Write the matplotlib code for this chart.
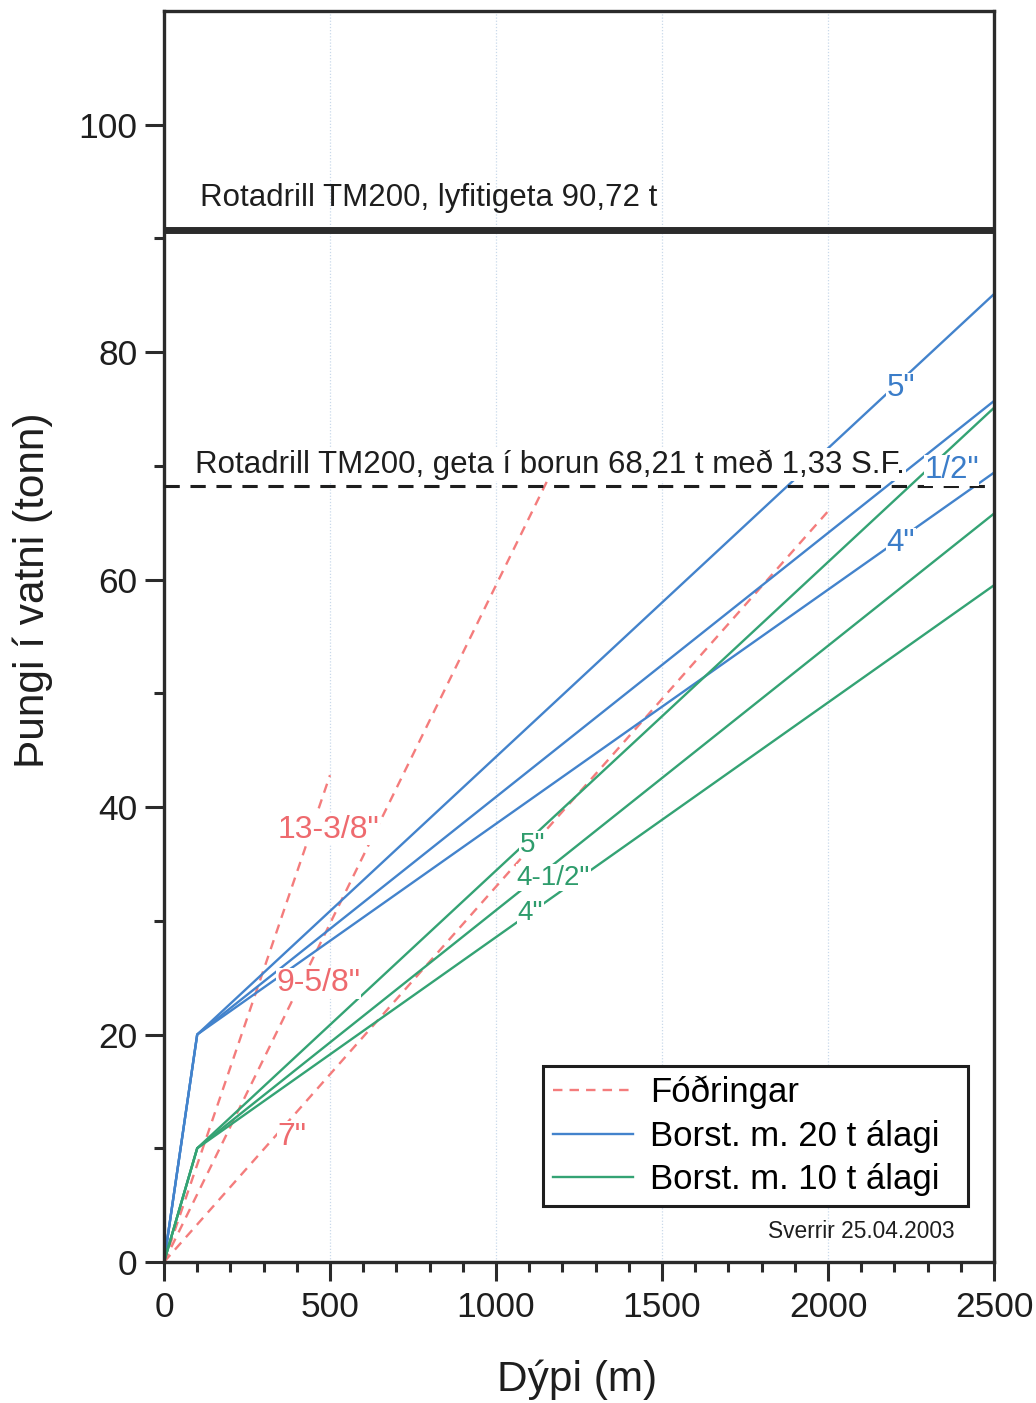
"""Þungi borstrengs og fóðringa í vatni sem fall af dýpi (Rotadrill TM200)."""

import matplotlib

matplotlib.use("Agg")
import matplotlib.pyplot as plt
from matplotlib.lines import Line2D
from matplotlib.ticker import FixedLocator

plt.rcParams["font.family"] = ["Liberation Sans", "DejaVu Sans"]

# --- data -------------------------------------------------------------------
# casings (Fóðringar): depth [m] / weight in water [t]
casing_names = ['13-3/8"', '9-5/8"', '7"']
casing_depth = [[0, 500], [0, 1205], [0, 2000]]
casing_weight = [[0, 42.8], [0, 71.7], [0, 66.0]]

# drill string with 20 t and 10 t bottom load
pipe_names = ['5"', '4-1/2"', '4"']
pipe_depth = [0, 100, 2500]
pipe20_weight = [[0, 20, 85.1], [0, 20, 75.7], [0, 20, 69.4]]
pipe10_weight = [[0, 10, 75.1], [0, 10, 65.8], [0, 10, 59.5]]

hoist_capacity = 90.72
drill_capacity = 68.21

# label anchor positions (depth, weight)
casing_label_pos = [(495, 38.0), (465, 24.5), (386, 11.0)]
pipe20_label_pos = [(2219, 76.8), (2372, 69.6), (2219, 63.2)]
pipe20_label_txt = ['5"', '1/2"', '4"']
pipe10_label_pos = [(1110, 36.7), (1173, 33.8), (1104, 30.7)]

RED = "#f47c7c"
BLUE = "#4383cc"
GREEN = "#34a374"
RED_T = "#ee6a6e"
BLUE_T = "#3b7dc9"
GREEN_T = "#2e9c6c"
DARK = "#2b2b2b"
INK = "#1e1e1e"

fig = plt.figure(figsize=(10.36, 14.03), dpi=100)
ax = fig.add_axes([0.1583, 0.1005, 0.8012, 0.8918])

ax.set_xlim(0, 2500)
ax.set_ylim(0, 110)

# faint vertical grid
for x in range(500, 2500, 500):
    ax.axvline(x, color="#c9d9ea", lw=0.9, ls=(0, (1, 1.5)), zorder=0)

white = dict(facecolor="white", edgecolor="none", pad=0.5)

for d, w in zip(casing_depth, casing_weight):
    ax.plot(d, w, color=RED, lw=1.7, dashes=(4, 3), zorder=2)
for w in pipe20_weight:
    ax.plot(pipe_depth, w, color=BLUE, lw=1.7, zorder=2)
for w in pipe10_weight:
    ax.plot(pipe_depth, w, color=GREEN, lw=1.7, zorder=2)

for name, (x, y) in zip(casing_names, casing_label_pos):
    ax.text(x, y, name, color=RED_T, fontsize=23, ha="center", va="center",
            bbox=white, zorder=4)
for name, (x, y) in zip(pipe20_label_txt, pipe20_label_pos):
    ax.text(x, y, name, color=BLUE_T, fontsize=22.5, ha="center", va="center",
            bbox=white, zorder=4)
for name, (x, y) in zip(pipe_names, pipe10_label_pos):
    ax.text(x, y, name, color=GREEN_T, fontsize=20, ha="center", va="center",
            bbox=white, zorder=4)

# rig capacities
ax.axhline(hoist_capacity, color=DARK, lw=5, zorder=3)
ax.axhline(drill_capacity, color=INK, lw=2.2, dashes=(5, 3.5), zorder=3)
ax.text(108, 93.5, "Rotadrill TM200, lyfitigeta 90,72 t", fontsize=22.5,
        color=INK, ha="left", va="center", zorder=5)
ax.text(93, 70.1, "Rotadrill TM200, geta í borun 68,21 t með 1,33 S.F.",
        fontsize=22.5, color=INK, ha="left", va="center",
        bbox=dict(facecolor="white", edgecolor="none", pad=1.0), zorder=5)

# axes styling
for s in ax.spines.values():
    s.set_color(DARK)
    s.set_linewidth(2.4)
ax.set_xticks(range(0, 2501, 500))
ax.xaxis.set_minor_locator(FixedLocator(range(0, 2501, 100)))
ax.set_yticks(range(0, 101, 20))
ax.yaxis.set_minor_locator(FixedLocator(range(10, 91, 20)))
ax.tick_params(which="major", length=14, width=2.2, color=DARK,
               labelsize=25.5, labelcolor=INK)
ax.tick_params(which="minor", length=7, width=2.2, color=DARK)
ax.tick_params(axis="x", which="major", pad=7)
ax.tick_params(axis="y", which="major", pad=5)

ax.set_xlabel("Dýpi (m)", fontsize=30.5, color=INK)
ax.set_ylabel("Þungi í vatni (tonn)", fontsize=30.5, color=INK)
ax.xaxis.set_label_coords(0.4976, -0.078)
ax.yaxis.set_label_coords(-0.134, 0.537)

handles = [
    Line2D([], [], color=RED, lw=1.7, dashes=(4, 3)),
    Line2D([], [], color=BLUE, lw=1.7),
    Line2D([], [], color=GREEN, lw=1.7),
]
leg = ax.legend(handles, ["Fóðringar", "Borst. m. 20 t álagi", "Borst. m. 10 t álagi"],
                loc="upper left", bbox_to_anchor=(0.4566, 0.0448, 0.512, 0.1118),
                mode="expand", borderaxespad=0,
                fontsize=25, handlelength=2.3, handletextpad=0.5,
                labelspacing=0.3, borderpad=0.28, fancybox=False, framealpha=1,
                edgecolor=INK)
leg.get_frame().set_linewidth(2.2)
leg.set_zorder(6)

ax.text(2382, 2.7, "Sverrir 25.04.2003", fontsize=16.4, color=INK,
        ha="right", va="center", zorder=5)

fig.savefig("out.png", dpi=100)
